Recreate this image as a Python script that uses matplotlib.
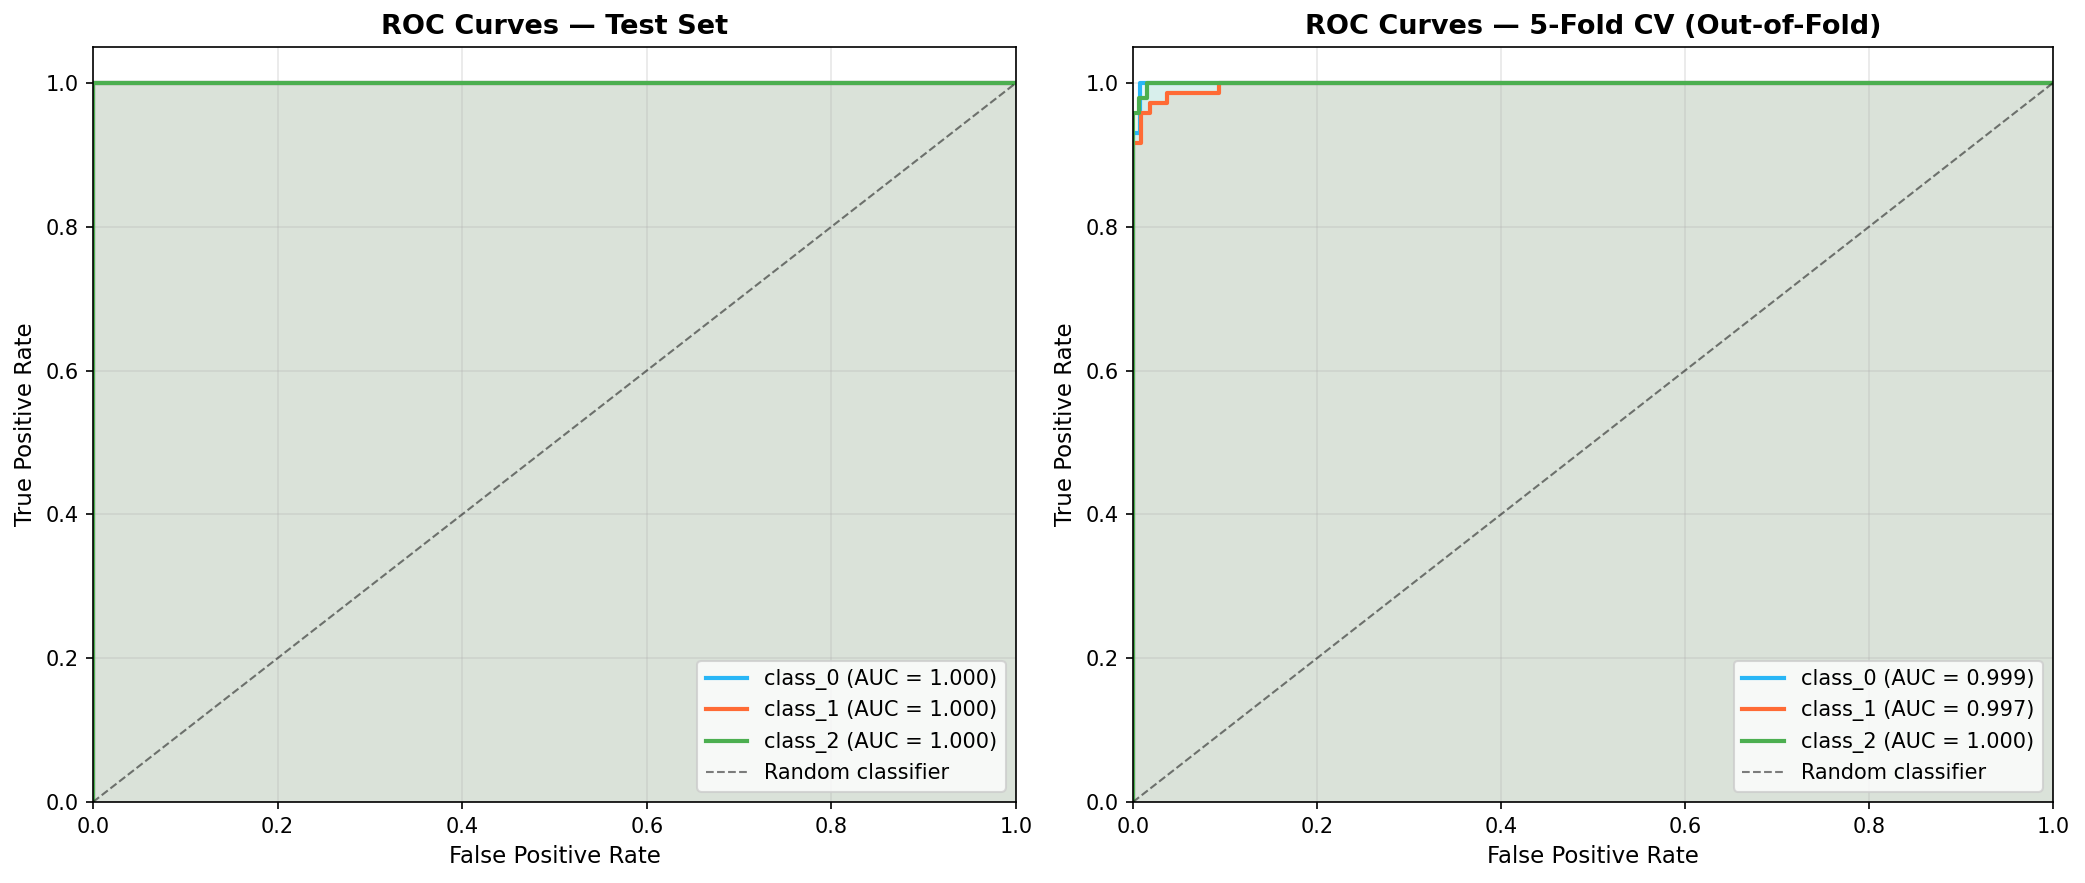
import matplotlib
matplotlib.use("Agg")
import matplotlib.pyplot as plt
import numpy as np

class_names = ["class_0", "class_1", "class_2"]
colors = ["#29B6F6", "#FF6B35", "#4CAF50"]

# Test set ROC (all perfect)
test_fpr = [[0.0, 0.0, 1.0], [0.0, 0.0, 1.0], [0.0, 0.0, 1.0]]
test_tpr = [[0.0, 1.0, 1.0], [0.0, 1.0, 1.0], [0.0, 1.0, 1.0]]
test_auc = [1.000, 1.000, 1.000]

# 5-fold CV out-of-fold ROC
cv_fpr = [
    [0.0, 0.0, 0.008, 0.008, 1.0],
    [0.0, 0.0, 0.009, 0.009, 0.019, 0.019, 0.037, 0.037, 0.093, 0.093, 1.0],
    [0.0, 0.0, 0.007, 0.007, 0.015, 0.015, 1.0],
]
cv_tpr = [
    [0.0, 0.931, 0.931, 1.0, 1.0],
    [0.0, 0.917, 0.917, 0.958, 0.958, 0.972, 0.972, 0.986, 0.986, 1.0, 1.0],
    [0.0, 0.958, 0.958, 0.979, 0.979, 1.0, 1.0],
]
cv_auc = [0.999, 0.997, 1.000]

titles = ["ROC Curves — Test Set", "ROC Curves — 5-Fold CV (Out-of-Fold)"]

fig = plt.figure(figsize=(2085 / 150, 883 / 150), dpi=150)
ax1 = fig.add_axes([93 / 2085, 81 / 883, 923 / 2085, 755 / 883])
ax2 = fig.add_axes([1133 / 2085, 81 / 883, 920 / 2085, 755 / 883])

for ax, fprs, tprs, aucs, title in [
    (ax1, test_fpr, test_tpr, test_auc, titles[0]),
    (ax2, cv_fpr, cv_tpr, cv_auc, titles[1]),
]:
    for name, c, f, t, a in zip(class_names, colors, fprs, tprs, aucs):
        ax.plot(f, t, color=c, lw=2, label=f"{name} (AUC = {a:.3f})")
        ax.fill_between(f, t, alpha=0.1, color=c, lw=0)
    ax.plot([0, 1], [0, 1], "k--", lw=1, alpha=0.5, label="Random classifier")
    ax.set_xlim(0, 1)
    ax.set_ylim(0, 1.05)
    ax.set_xlabel("False Positive Rate", fontsize=11)
    ax.set_ylabel("True Positive Rate", fontsize=11)
    ax.set_title(title, fontsize=13, fontweight="bold")
    ax.legend(loc="lower right", fontsize=10)
    ax.grid(alpha=0.3)

fig.savefig("out.png", dpi=150)
